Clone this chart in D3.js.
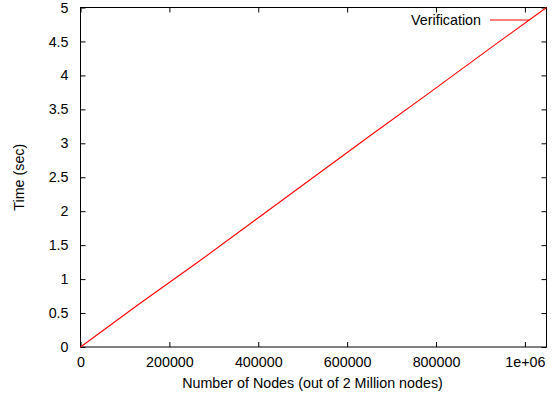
<!DOCTYPE html>
<html>
<head>
<meta charset="utf-8">
<script src="https://cdn.jsdelivr.net/npm/d3@7"></script>
<style>
  html, body { margin: 0; padding: 0; background: #fff; }
  svg text { font-family: "Liberation Sans", Arial, Helvetica, sans-serif; fill: #000; }
</style>
</head>
<body>
<svg id="chart" width="557" height="399"></svg>
<script>
// Verification time versus number of nodes processed
const nodeCounts = [0, 131072, 262144, 393216, 524288, 655360, 786432, 917504, 1048576];
const verificationTimes = [0, 0.63, 1.24, 1.87, 2.50, 3.13, 3.75, 4.38, 5.0];

const xTicks = [0, 200000, 400000, 600000, 800000, 1000000];
const xTickLabels = ["0", "200000", "400000", "600000", "800000", "1e+06"];
const yTicks = [0, 0.5, 1, 1.5, 2, 2.5, 3, 3.5, 4, 4.5, 5];
const yTickLabels = ["0", "0.5", "1", "1.5", "2", "2.5", "3", "3.5", "4", "4.5", "5"];

const seriesName = "Verification";
const xTitle = "Number of Nodes (out of 2 Million nodes)";
const yTitle = "Time (sec)";

const frame = { left: 80.5, right: 546.5, top: 7.5, bottom: 347 };
const svg = d3.select("#chart");

const x = d3.scaleLinear().domain([0, 1048576]).range([frame.left, frame.right]);
const y = d3.scaleLinear().domain([0, 5]).range([frame.bottom, frame.top]);

const tickLen = 5;
const fontSize = 14.3;

// Bottom axis with labels, top axis mirrored without labels
const axisB = d3.axisBottom(x).tickValues(xTicks)
  .tickFormat((d, i) => xTickLabels[i]).tickSizeInner(-tickLen).tickSizeOuter(0).tickPadding(10);
const axisT = d3.axisTop(x).tickValues(xTicks).tickFormat("").tickSizeInner(-tickLen).tickSizeOuter(0);
const axisL = d3.axisLeft(y).tickValues(yTicks)
  .tickFormat((d, i) => yTickLabels[i]).tickSizeInner(-tickLen).tickSizeOuter(0).tickPadding(12);
const axisR = d3.axisRight(y).tickValues(yTicks).tickFormat("").tickSizeInner(-tickLen).tickSizeOuter(0);

function styleAxis(g) {
  g.select(".domain").remove();
  g.selectAll(".tick line").attr("stroke", "#000").attr("stroke-width", 1);
  g.selectAll(".tick text").attr("font-size", fontSize).attr("fill", "#000")
    .style("font-family", '"Liberation Sans", Arial, sans-serif');
}

svg.append("g").attr("transform", `translate(0,${frame.bottom})`).call(axisB).call(styleAxis);
svg.append("g").attr("transform", `translate(0,${frame.top})`).call(axisT).call(styleAxis);
svg.append("g").attr("transform", `translate(${frame.left},0)`).call(axisL).call(styleAxis);
svg.append("g").attr("transform", `translate(${frame.right},0)`).call(axisR).call(styleAxis);

// Plot frame
svg.append("rect")
  .attr("x", frame.left).attr("y", frame.top)
  .attr("width", frame.right - frame.left).attr("height", frame.bottom - frame.top)
  .attr("fill", "none").attr("stroke", "#000").attr("stroke-width", 1);

// Data line
const line = d3.line().x((d, i) => x(nodeCounts[i])).y(d => y(d));
svg.append("path")
  .datum(verificationTimes)
  .attr("d", line)
  .attr("fill", "none")
  .attr("stroke", "#ff0000")
  .attr("stroke-width", 1.1);

// Legend
const legendY = 20;
svg.append("text")
  .attr("x", 481).attr("y", legendY).attr("dy", "0.35em")
  .attr("text-anchor", "end").attr("font-size", fontSize)
  .text(seriesName);
svg.append("line")
  .attr("x1", 490).attr("x2", 530).attr("y1", legendY).attr("y2", legendY)
  .attr("stroke", "#ff0000").attr("stroke-width", 1.1);

// Axis titles
svg.append("text")
  .attr("x", (frame.left + frame.right) / 2 - 1).attr("y", 388)
  .attr("text-anchor", "middle").attr("font-size", fontSize)
  .text(xTitle);
svg.append("text")
  .attr("transform", `translate(24,${(frame.top + frame.bottom) / 2}) rotate(-90)`)
  .attr("text-anchor", "middle").attr("font-size", fontSize)
  .text(yTitle);
</script>
</body>
</html>
